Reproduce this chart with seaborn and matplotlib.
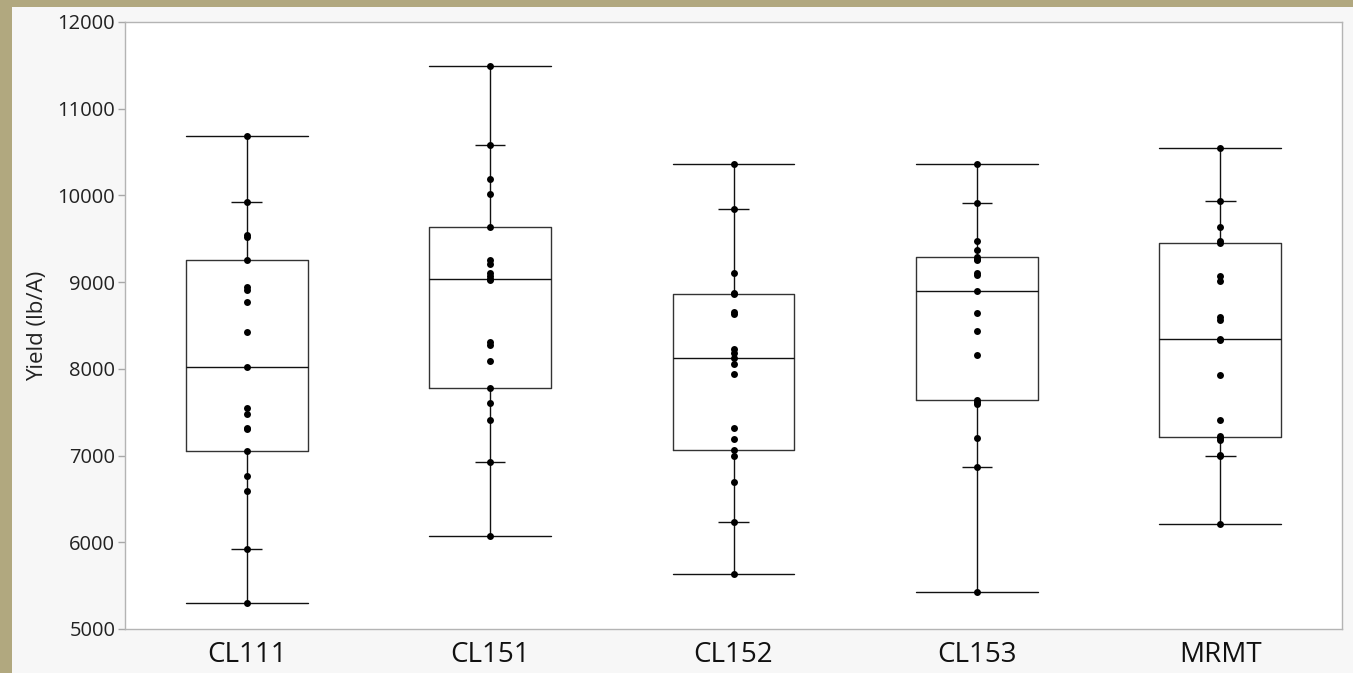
import numpy as np
import pandas as pd
import matplotlib
matplotlib.use("Agg")
import matplotlib.pyplot as plt
from matplotlib.patches import Rectangle
import seaborn as sns

# ---------------- data ----------------
categories = ["CL111", "CL151", "CL152", "CL153", "MRMT"]

cl111 = [5300, 5925, 6590, 6770, 7050, 7310, 7320, 7480, 7550, 8020,
         8420, 8770, 8910, 8940, 9250, 9520, 9540, 9920, 10680]
cl151 = [6075, 6930, 7410, 7610, 7780, 8090, 8280, 8310, 9030, 9040,
         9070, 9110, 9210, 9250, 9640, 10020, 10190, 10580, 11490]
cl152 = [5640, 6230, 6700, 7000, 7070, 7190, 7320, 7940, 8060, 8120,
         8180, 8230, 8630, 8660, 8860, 8880, 9100, 9840, 10360]
cl153 = [5430, 6870, 7200, 7600, 7620, 7640, 8160, 8440, 8640, 8900,
         9080, 9110, 9250, 9270, 9290, 9370, 9480, 9910, 10360]
mrmt = [6210, 6990, 7010, 7180, 7200, 7220, 7410, 7930, 8330, 8340,
        8560, 8600, 9010, 9070, 9450, 9470, 9640, 9940, 10550]

# quantile box summaries as drawn (min, 10%, 25%, median, 75%, 90%, max)
box_min = [5300, 6075, 5640, 5430, 6210]
box_p10 = [5925, 6930, 6230, 6870, 7000]
box_q1 = [7050, 7780, 7070, 7640, 7210]
box_med = [8020, 9035, 8120, 8900, 8340]
box_q3 = [9250, 9640, 8865, 9290, 9450]
box_p90 = [9920, 10580, 9840, 9910, 9940]
box_max = [10680, 11490, 10360, 10360, 10550]

y_ticks = [5000, 6000, 7000, 8000, 9000, 10000, 11000, 12000]
y_label = "Yield (lb/A)"

# ---------------- build frame ----------------
series = [cl111, cl151, cl152, cl153, mrmt]
df = pd.DataFrame({
    "Line": np.repeat(categories, [len(s) for s in series]),
    "Yield": np.concatenate(series),
})

sns.set_style("white")
plt.rcParams["font.family"] = ["Open Sans", "DejaVu Sans"]

W, H = 1353, 673
fig = plt.figure(figsize=(W / 100, H / 100), dpi=100)
fig.patch.set_facecolor("#f7f7f7")
# tan frame on left and top
fig.add_artist(Rectangle((0, 0), 12 / W, 1, transform=fig.transFigure,
                         facecolor="#b1a87f", edgecolor="none", zorder=0))
fig.add_artist(Rectangle((0, 1 - 7 / H), 1, 7 / H, transform=fig.transFigure,
                         facecolor="#b1a87f", edgecolor="none", zorder=0))

ax = fig.add_axes([125 / W, (H - 629) / H, (1342 - 125) / W, (629 - 22) / H])
ax.set_facecolor("white")

# points
sns.stripplot(data=df, x="Line", y="Yield", order=categories, jitter=False,
              color="black", size=5, linewidth=0, ax=ax, zorder=5)

# quantile boxes
stats = []
for i in range(len(categories)):
    stats.append(dict(med=box_med[i], q1=box_q1[i], q3=box_q3[i],
                      whislo=box_min[i], whishi=box_max[i], fliers=[]))
pos = np.arange(len(categories))
ax.bxp(stats, positions=pos, widths=0.5, capwidths=0.5, showfliers=False,
       manage_ticks=False,
       boxprops=dict(color="#333333", linewidth=1.0),
       medianprops=dict(color="#111111", linewidth=1.0),
       whiskerprops=dict(color="#111111", linewidth=1.0),
       capprops=dict(color="#111111", linewidth=1.0))
# 10% / 90% quantile ticks
ax.hlines(box_p10, pos - 0.0625, pos + 0.0625, color="#111111", linewidth=1.0, zorder=4)
ax.hlines(box_p90, pos - 0.0625, pos + 0.0625, color="#111111", linewidth=1.0, zorder=4)

ax.set_xlim(-0.5, len(categories) - 0.5)
ax.set_ylim(5000, 12000)
ax.set_yticks(y_ticks)
ax.set_yticklabels([str(t) for t in y_ticks])

ax.set_xlabel("")
ax.set_ylabel(y_label, fontsize=16, color="#222222")
ax.yaxis.set_label_coords(-0.063, 0.5)

ax.tick_params(axis="y", which="major", length=5, width=1, color="#a8a8a8",
               direction="out", pad=2, labelsize=14.5, labelcolor="#222222", left=True)
ax.tick_params(axis="x", length=0, pad=9, labelsize=20, labelcolor="#111111")

for s in ax.spines.values():
    s.set_visible(True)
    s.set_color("#b4b4b4")
    s.set_linewidth(1.0)

fig.savefig("out.png", dpi=100, facecolor=fig.get_facecolor())
